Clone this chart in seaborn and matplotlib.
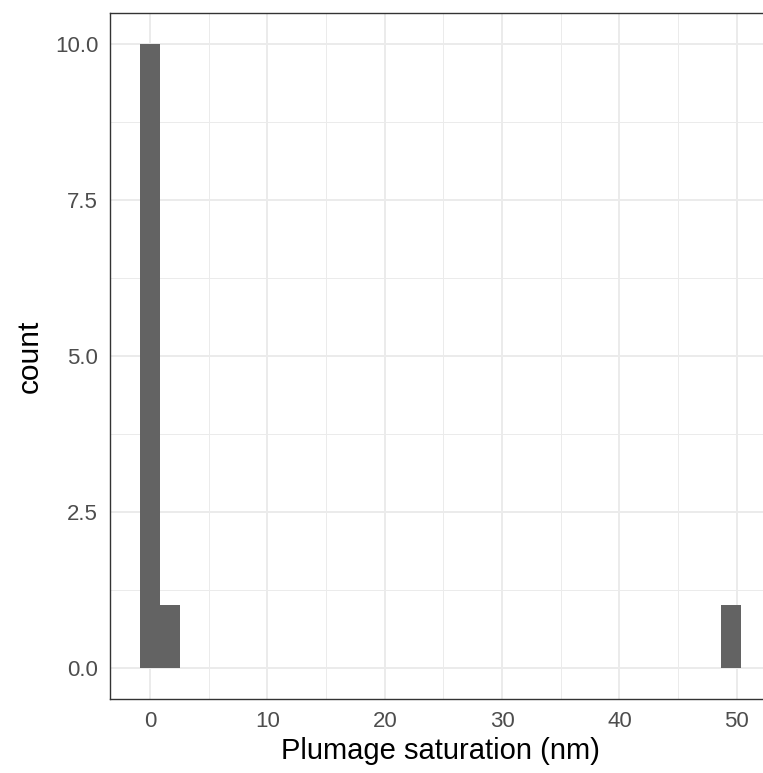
import numpy as np
import pandas as pd
import matplotlib
matplotlib.use("Agg")
import matplotlib.pyplot as plt
from matplotlib.ticker import MultipleLocator, FormatStrFormatter
import seaborn as sns

# Plumage saturation measurements (nm)
saturation = [0.0, 0.0, 0.1, 0.2, 0.0, 0.3, 0.1, 0.0, 0.4, 0.2, 1.6, 49.5]
x_ticks = [0, 10, 20, 30, 40, 50]
y_ticks = [0.0, 2.5, 5.0, 7.5, 10.0]
n_bins = 30

df = pd.DataFrame({"saturation": saturation})

# 30 equal-width bins, centred so the smallest value sits in the middle of the first bin
lo, hi = min(saturation), max(saturation)
width = (hi - lo) / (n_bins - 1)
edges = lo - width / 2 + width * np.arange(n_bins + 1)

sns.set_theme(style="white")
plt.rcParams["font.family"] = ["Liberation Sans", "DejaVu Sans"]

W, H = 763, 773
fig = plt.figure(figsize=(W / 100, H / 100), dpi=100)
ax = fig.add_axes([110 / W, (H - 699) / H, 661 / W, 686 / H])
ax.set_facecolor("white")

# grid (major + minor), drawn beneath the bars
ax.set_axisbelow(True)
ax.xaxis.set_major_locator(MultipleLocator(10))
ax.xaxis.set_minor_locator(MultipleLocator(5))
ax.yaxis.set_major_locator(MultipleLocator(2.5))
ax.yaxis.set_minor_locator(MultipleLocator(1.25))
ax.grid(which="major", color="#EBEBEB", linewidth=1.4)
ax.grid(which="minor", color="#EBEBEB", linewidth=0.7)

sns.histplot(data=df, x="saturation", bins=edges, stat="count",
             color="#636363", edgecolor="none", linewidth=0, alpha=1.0, ax=ax)

span_x = edges[-1] - edges[0]
ax.set_xlim(edges[0] - 0.05 * span_x, edges[-1] + 0.05 * span_x)
ax.set_ylim(-0.5, 10.5)
ax.set_xticks(x_ticks)
ax.set_yticks(y_ticks)
ax.yaxis.set_major_formatter(FormatStrFormatter("%.1f"))

ax.tick_params(which="major", length=5, width=1.1, color="#333333",
               labelsize=16, labelcolor="#4D4D4D", pad=3.5)
ax.tick_params(which="minor", length=0)
for s in ax.spines.values():
    s.set_color("#333333")
    s.set_linewidth(1.0)

ax.set_xlabel("Plumage saturation (nm)", fontsize=21, color="black", labelpad=4)
ax.set_ylabel("count", fontsize=21.5, color="black", labelpad=8)

fig.savefig("out.png", dpi=100)
